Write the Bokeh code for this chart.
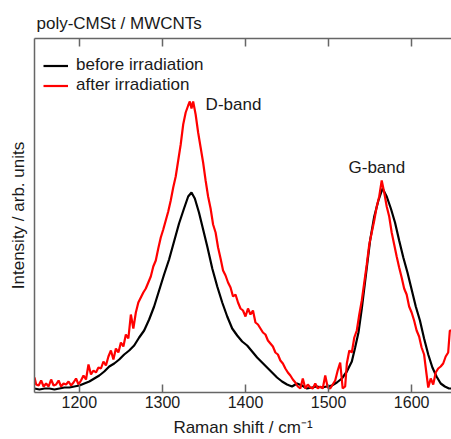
from bokeh.plotting import figure
from bokeh.models import (Range1d, LinearAxis, FixedTicker, Legend, LegendItem,
                          ColumnDataSource, Label, CustomLabelingPolicy)
from bokeh.embed import file_html
from bokeh.resources import INLINE

# ---- data ----
title_text = "poly-CMSt / MWCNTs"
x_ticks = [1200, 1300, 1400, 1500, 1600]
series_names = ["before irradiation", "after irradiation"]
band_names = ["D-band", "G-band"]

before_shift = [1146, 1152, 1158, 1164, 1170, 1176, 1182, 1188, 1194, 1200,
                1206, 1212, 1218, 1224, 1230, 1236, 1242, 1248, 1254, 1260,
                1266, 1272, 1278, 1284, 1290, 1296, 1302, 1308, 1314, 1320,
                1326, 1331, 1335, 1339, 1344, 1349, 1354, 1360, 1366, 1372,
                1378, 1384, 1390, 1396, 1402, 1408, 1414, 1420, 1426, 1432,
                1438, 1444, 1450, 1456, 1462, 1468, 1474, 1480, 1486, 1492,
                1498, 1504, 1510, 1516, 1522, 1528, 1532, 1536, 1540, 1545,
                1550, 1555, 1560, 1565, 1570, 1575, 1580, 1585, 1590, 1595,
                1600, 1605, 1610, 1615, 1620, 1625, 1630, 1635, 1640, 1645, 1650]
before_int = [4, 3, 4, 4, 3, 4, 5, 5, 6, 7,
              9, 11, 14, 17, 21, 26, 29, 33, 38, 42,
              47, 55, 62, 73, 86, 102, 118, 133, 151, 169,
              184, 196, 200, 194, 180, 163, 146, 124, 106, 90,
              76, 64, 57, 51, 47, 41, 35, 30, 25, 20,
              15, 11, 8, 6, 9, 7, 4, 5, 6, 5,
              6, 7, 10, 14, 21, 31, 45, 60, 84, 118,
              152, 176, 192, 204, 196, 184, 170, 152, 135, 120,
              103, 86, 72, 54, 38, 25, 16, 9, 6, 4, 4]

after_shift = [1146, 1148, 1151, 1154, 1157, 1160, 1163, 1166, 1169, 1172,
               1175, 1178, 1181, 1184, 1187, 1190, 1193, 1196, 1199, 1202,
               1205, 1208, 1211, 1214, 1217, 1220, 1223, 1226, 1229, 1232,
               1235, 1238, 1241, 1244, 1247, 1250, 1253, 1256, 1259, 1262,
               1265, 1268, 1271, 1274, 1277, 1280, 1283, 1286, 1289, 1292,
               1295, 1298, 1301, 1304, 1307, 1310, 1313, 1316, 1319, 1322,
               1325, 1328, 1331, 1333, 1335, 1337, 1340, 1343, 1346, 1349,
               1352, 1355, 1358, 1361, 1364, 1367, 1370, 1373, 1376, 1379,
               1382, 1385, 1388, 1391, 1394, 1397, 1400, 1403, 1406, 1409,
               1412, 1415, 1418, 1421, 1424, 1427, 1430, 1433, 1436, 1439,
               1442, 1445, 1448, 1451, 1454, 1457, 1460, 1463, 1466, 1469,
               1472, 1475, 1478, 1481, 1484, 1487, 1490, 1493, 1496, 1499,
               1502, 1505, 1508, 1511, 1514, 1517, 1520, 1522, 1525, 1528,
               1531, 1534, 1537, 1540, 1543, 1546, 1549, 1552, 1555, 1558,
               1561, 1564, 1567, 1570, 1573, 1576, 1579, 1582, 1585, 1588,
               1591, 1594, 1597, 1600, 1603, 1606, 1609, 1612, 1615, 1618,
               1620, 1623, 1626, 1629, 1632, 1635, 1638, 1641, 1644, 1646, 1650]
after_int = [15, 8, 7, 12, 6, 9, 6, 13, 7, 8,
             12, 6, 9, 8, 11, 7, 10, 14, 8, 12,
             17, 13, 28, 18, 22, 20, 25, 24, 31, 27,
             36, 42, 33, 44, 40, 50, 46, 58, 54, 78,
             64, 80, 90, 95, 100, 104, 110, 116, 126, 132,
             144, 155, 163, 172, 181, 192, 205, 216, 232, 248,
             268, 280, 287, 291, 284, 291, 278, 260, 245, 230,
             212, 196, 184, 168, 160, 145, 134, 122, 117, 110,
             105, 96, 98, 90, 84, 82, 76, 84, 78, 82,
             70, 68, 64, 60, 58, 52, 49, 46, 40, 38,
             32, 29, 24, 20, 17, 13, 10, 6, 4, 14,
             4, 8, 5, 4, 9, 4, 6, 4, 17, 5,
             4, 8, 12, 22, 30, 4, 6, 29, 42, 40,
             55, 62, 78, 92, 110, 128, 148, 160, 172, 186,
             196, 212, 200, 186, 176, 160, 148, 136, 125, 115,
             104, 98, 86, 80, 72, 62, 56, 45, 38, 18,
             5, 14, 8, 20, 24, 26, 29, 36, 40, 62, 62]

FONT = "Liberation Sans"
TXT = "#1a1a1a"
AX = "#666666"

p = figure(width=451, height=439, output_backend="svg", toolbar_location=None,
           x_range=Range1d(1146, 1648), y_range=Range1d(0, 354),
           min_border_left=34, min_border_right=0, min_border_top=38, min_border_bottom=47,
           title=title_text)
p.outline_line_color = None
p.grid.visible = False
p.background_fill_color = "white"

p.title.text_font = FONT
p.title.text_font_size = "17px"
p.title.text_font_style = "normal"
p.title.text_color = TXT
p.title.align = "left"
p.title.offset = 2
p.title.standoff = 11

xa = p.xaxis[0]
xa.ticker = FixedTicker(ticks=x_ticks)
xa.minor_tick_line_color = None
xa.major_tick_in = 8
xa.major_tick_out = 0
xa.major_tick_line_color = AX
xa.major_tick_line_width = 1.5
xa.axis_line_color = AX
xa.axis_line_width = 1.5
xa.major_label_text_font = FONT
xa.major_label_text_font_size = "16px"
xa.major_label_text_color = TXT
xa.major_label_standoff = 3
xa.axis_label = "Raman shift / cm\u207b\u00b9"
xa.axis_label_text_font = FONT
xa.axis_label_text_font_size = "17px"
xa.axis_label_text_font_style = "normal"
xa.axis_label_text_color = TXT
xa.axis_label_standoff = 7

no_labels = CustomLabelingPolicy(code="""
for (let i = 0; i < indices.size; i++) { indices.unset(i) }
return indices
""")
top = LinearAxis(ticker=FixedTicker(ticks=x_ticks), major_label_policy=no_labels,
                 major_label_overrides={t: "" for t in x_ticks},
                 major_label_text_font_size="1px",
                 minor_tick_line_color=None, major_tick_in=8, major_tick_out=0,
                 major_tick_line_color=AX, major_tick_line_width=1.5,
                 axis_line_color=AX, axis_line_width=1.5, major_label_standoff=0)
p.add_layout(top, "above")

ya = p.yaxis[0]
ya.ticker = FixedTicker(ticks=[])
ya.minor_tick_line_color = None
ya.major_tick_line_color = None
ya.major_label_standoff = 0
ya.axis_line_color = AX
ya.axis_line_width = 1.5
ya.axis_label = "Intensity / arb. units"
ya.axis_label_text_font = FONT
ya.axis_label_text_font_size = "17px"
ya.axis_label_text_font_style = "normal"
ya.axis_label_text_color = TXT
ya.axis_label_standoff = 7

src_b = ColumnDataSource(dict(x=before_shift, y=before_int))
src_a = ColumnDataSource(dict(x=after_shift, y=after_int))
rb = p.line("x", "y", source=src_b, line_color="black", line_width=2.2)
ra = p.line("x", "y", source=src_a, line_color="#ff0000", line_width=2.2)

legend = Legend(items=[LegendItem(label=series_names[0], renderers=[rb]),
                       LegendItem(label=series_names[1], renderers=[ra])],
                location=(9, 297), padding=0, margin=0, spacing=-10,
                glyph_width=25, glyph_height=17, label_height=17, label_standoff=8,
                label_text_font=FONT, label_text_font_size="17px", label_text_color=TXT,
                background_fill_alpha=0, border_line_color=None)
p.add_layout(legend)

p.add_layout(Label(x=1352, y=288, text=band_names[0], text_baseline="middle", text_align="left",
                   text_font=FONT, text_font_size="17px", text_color=TXT))
p.add_layout(Label(x=1524, y=225, text=band_names[1], text_baseline="middle", text_align="left",
                   text_font=FONT, text_font_size="17px", text_color=TXT))

open("out.html", "w").write(file_html(p, INLINE))
